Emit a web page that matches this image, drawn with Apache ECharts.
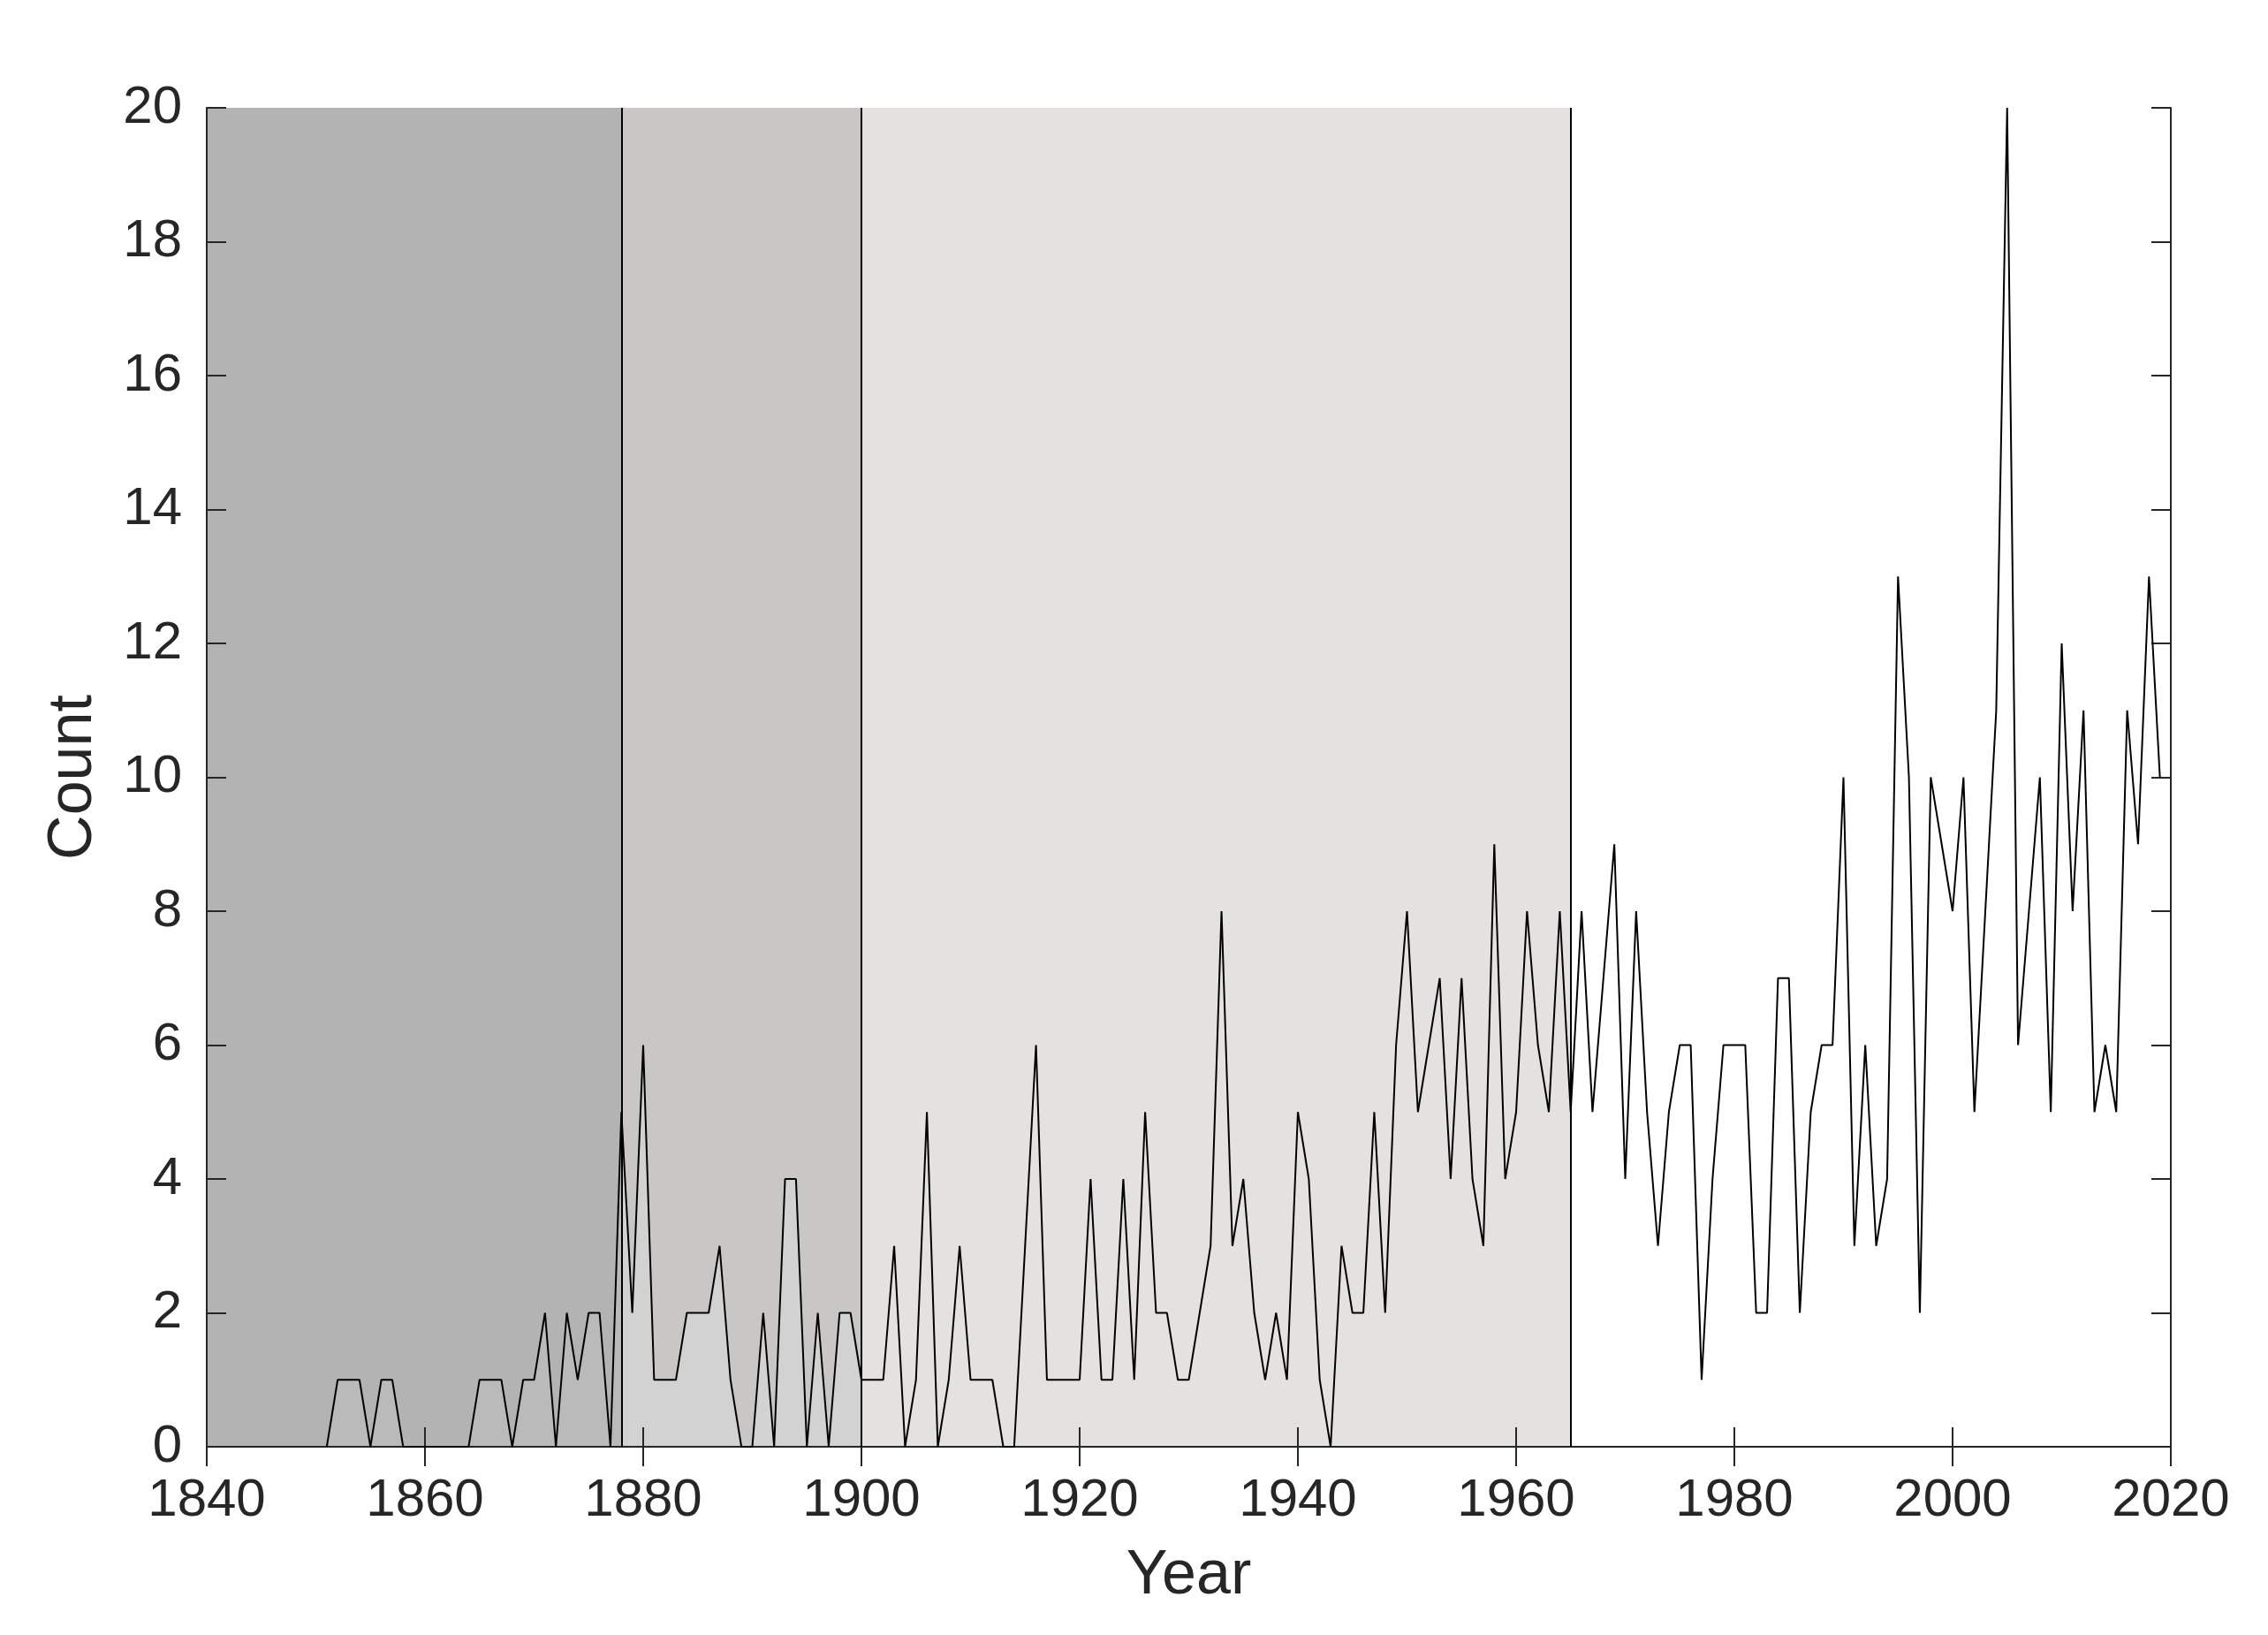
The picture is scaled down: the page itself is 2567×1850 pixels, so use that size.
<!DOCTYPE html>
<html>
<head>
<meta charset="utf-8">
<script src="https://cdn.jsdelivr.net/npm/echarts@6/dist/echarts.min.js"></script>
<style>
html,body{margin:0;padding:0;background:#fff;}
#chart{width:2567px;height:1850px;}
</style>
</head>
<body>
<div id="chart"></div>
<script>
// ---- data ----
const firstYear = 1851;
const counts = [
  0,1,1,1,0,1,1,0,0,0, 0,0,0,0,1,1,1,0,1,1,   // 1851-1870
  2,0,2,1,2,2,0,5,2,6, 1,1,1,2,2,2,3,1,0,0,   // 1871-1890
  2,0,4,4,0,2,0,2,2,1, 1,1,3,0,1,5,0,1,3,1,   // 1891-1910
  1,1,0,0,3,6,1,1,1,1, 4,1,1,4,1,5,2,2,1,1,   // 1911-1930
  2,3,8,3,4,2,1,2,1,5, 4,1,0,3,2,2,5,2,6,8,   // 1931-1950
  5,6,7,4,7,4,3,9,4,5, 8,6,5,8,5,8,5,7,9,4,   // 1951-1970
  8,5,3,5,6,6,1,4,6,6, 6,2,2,7,7,2,5,6,6,10,  // 1971-1990
  3,6,3,4,13,10,2,10,9,8, 10,5,8,11,20,6,8,10,5,12, // 1991-2010
  8,11,5,6,5,11,9,13,10                        // 2011-2019
];
const periodBounds = [1840, 1878, 1900, 1965, 2020];
const periodColors = ['#b3b3b3', '#c8c7c6', '#e3e2e0'];
const underColors = ['#bbbaba', '#d3d2d2'];
const xTicks = [1840, 1860, 1880, 1900, 1920, 1940, 1960, 1980, 2000, 2020];
const yTicks = [0, 2, 4, 6, 8, 10, 12, 14, 16, 18, 20];

const series_pts = counts.map((v, i) => [firstYear + i, v]);
function slice(a, b) { return series_pts.filter(p => p[0] >= a && p[0] <= b); }

const FONT = '"Liberation Sans", Arial, Helvetica, sans-serif';
const AX = '#262626';

const chart = echarts.init(document.getElementById('chart'), null, {renderer: 'canvas'});
const axisCommon = {
  z: 3,
  axisLine: {show: true, lineStyle: {color: AX, width: 2}},
  axisTick: {show: true, inside: true, length: 22, lineStyle: {color: AX, width: 2}},
  splitLine: {show: false}
};
chart.setOption({
  animation: false,
  backgroundColor: '#ffffff',
  grid: {left: 234, right: 110, top: 122, bottom: 213},
  xAxis: [
    Object.assign({
      type: 'value', min: xTicks[0], max: xTicks[xTicks.length - 1], interval: 20,
      name: 'Year', nameLocation: 'middle', nameGap: 112,
      nameTextStyle: {fontFamily: FONT, fontSize: 70, color: AX},
      axisLabel: {fontFamily: FONT, fontSize: 60, color: AX, margin: 31, formatter: v => String(v)}
    }, axisCommon),
    Object.assign({
      type: 'value', position: 'top', min: xTicks[0], max: xTicks[xTicks.length - 1], interval: 20,
      axisLabel: {show: false}
    }, axisCommon)
  ],
  yAxis: [
    Object.assign({
      type: 'value', min: yTicks[0], max: yTicks[yTicks.length - 1], interval: 2,
      name: 'Count', nameLocation: 'middle', nameGap: 115, nameRotate: 90,
      nameTextStyle: {fontFamily: FONT, fontSize: 70, color: AX},
      axisLabel: {fontFamily: FONT, fontSize: 60, color: AX, margin: 28, formatter: v => String(v)}
    }, axisCommon),
    Object.assign({
      type: 'value', position: 'right', min: yTicks[0], max: yTicks[yTicks.length - 1], interval: 2,
      axisLabel: {show: false}
    }, axisCommon)
  ],
  series: [
    {
      type: 'line', data: [], silent: true, z: 1,
      markArea: {
        silent: true,
        data: periodColors.map((c, i) => [
          {xAxis: periodBounds[i], itemStyle: {color: c}},
          {xAxis: periodBounds[i + 1]}
        ])
      }
    },
    {
      type: 'line', data: slice(periodBounds[0], periodBounds[1]), z: 2, silent: true,
      symbol: 'none', lineStyle: {width: 0}, areaStyle: {color: underColors[0], opacity: 1}
    },
    {
      type: 'line', data: slice(periodBounds[1], periodBounds[2]), z: 2, silent: true,
      symbol: 'none', lineStyle: {width: 0}, areaStyle: {color: underColors[1], opacity: 1}
    },
    {
      type: 'line', data: series_pts, z: 4, silent: true, clip: false,
      symbol: 'none', lineStyle: {color: '#000000', width: 2},
      markLine: {
        silent: true, symbol: 'none', label: {show: false},
        lineStyle: {color: '#000000', width: 2, type: 'solid'},
        data: periodBounds.slice(1, 4).map(b => ({xAxis: b}))
      }
    }
  ]
});
</script>
</body>
</html>
